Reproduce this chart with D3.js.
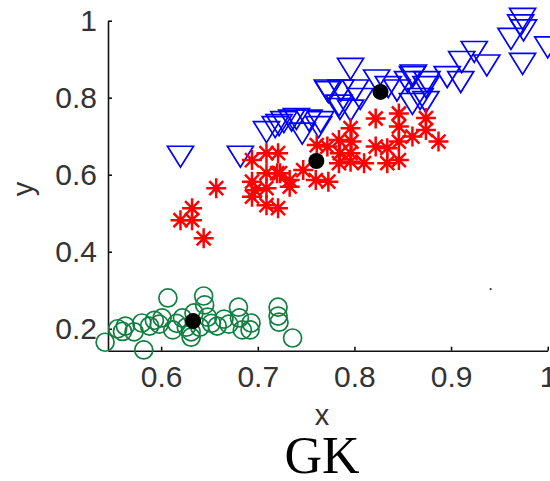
<!DOCTYPE html>
<html>
<head>
<meta charset="utf-8">
<script src="https://cdn.jsdelivr.net/npm/d3@7"></script>
<style>
  html, body { margin: 0; padding: 0; background: #fff; }
  svg { display: block; }
</style>
</head>
<body>
<svg id="chart" width="550" height="481"></svg>
<script>
// Cluster members (x, y)
const clusterA = [ // green circles
  [0.542,0.165],[0.555,0.200],[0.560,0.193],[0.563,0.207],[0.572,0.192],[0.580,0.215],
  [0.582,0.145],[0.588,0.207],[0.593,0.222],[0.598,0.212],[0.601,0.228],[0.607,0.280],
  [0.612,0.197],[0.616,0.214],[0.622,0.228],[0.626,0.204],[0.631,0.178],[0.634,0.241],
  [0.640,0.204],[0.644,0.285],[0.645,0.262],[0.648,0.230],[0.652,0.214],[0.658,0.207],
  [0.665,0.225],[0.680,0.256],[0.681,0.228],[0.684,0.197],[0.692,0.197],[0.693,0.215],
  [0.721,0.256],[0.721,0.233],[0.722,0.217],[0.736,0.176],[0.631,0.192],[0.670,0.212]
];
const clusterB = [ // red stars
  [0.657,0.565],[0.632,0.513],[0.620,0.482],[0.632,0.482],[0.644,0.435],[0.694,0.638],
  [0.709,0.656],[0.721,0.656],[0.694,0.582],[0.709,0.604],[0.720,0.604],[0.709,0.565],
  [0.694,0.543],[0.697,0.560],[0.709,0.521],[0.721,0.513],[0.733,0.586],[0.733,0.569],
  [0.747,0.612],[0.723,0.604],[0.760,0.586],[0.773,0.582],[0.772,0.673],[0.784,0.630],
  [0.784,0.690],[0.797,0.686],[0.796,0.721],[0.796,0.656],[0.810,0.630],[0.822,0.673],
  [0.822,0.746],[0.834,0.669],[0.834,0.630],[0.846,0.759],[0.846,0.725],[0.846,0.686],
  [0.846,0.638],[0.860,0.699],[0.874,0.747],[0.874,0.716],[0.887,0.686],[0.761,0.677],
  [0.785,0.656],[0.796,0.634]
];
const clusterC = [ // blue triangles
  [0.620,0.648],[0.682,0.648],[0.709,0.712],[0.718,0.725],[0.727,0.738],[0.735,0.742],
  [0.746,0.708],[0.753,0.742],[0.763,0.725],[0.765,0.738],[0.773,0.816],[0.784,0.781],
  [0.785,0.772],[0.796,0.768],[0.796,0.876],[0.786,0.820],[0.801,0.820],[0.806,0.798],
  [0.823,0.846],[0.835,0.829],[0.844,0.820],[0.860,0.855],[0.860,0.785],[0.868,0.798],
  [0.874,0.829],[0.874,0.790],[0.855,0.842],[0.896,0.855],[0.910,0.842],[0.911,0.894],
  [0.924,0.920],[0.937,0.885],[0.962,0.954],[0.972,0.989],[0.974,1.006],[0.975,0.976],
  [0.974,0.889],[1.000,0.932],[0.772,0.820],[0.861,0.859],[0.875,0.842],[0.740,0.746],
  [0.722,0.730]
];
const centroids = [[0.633,0.220],[0.7606,0.6356],[0.827,0.815]];
const stray = [[0.941,0.303]];

const xTicks = [0.6, 0.7, 0.8, 0.9, 1];
const yTicks = [0.2, 0.4, 0.6, 0.8, 1];
const xLabel = "x", yLabel = "y", title = "GK";

const svg = d3.select("#chart");
const x = d3.scaleLinear().domain([0.545, 1]).range([108, 547.7]);
const y = d3.scaleLinear().domain([0.143, 1]).range([350.7, 20.7]);
const fmt = d => d === 1 ? "1" : d3.format(".1f")(d);

// Axes: inward ticks, no outer ticks
const gx = svg.append("g").attr("transform", `translate(0,${y.range()[0]})`)
  .call(d3.axisBottom(x).tickValues(xTicks).tickFormat(fmt).tickSize(-4).tickSizeOuter(0).tickPadding(15));
const gy = svg.append("g").attr("transform", `translate(${x.range()[0]},0)`)
  .call(d3.axisLeft(y).tickValues(yTicks).tickFormat(fmt).tickSize(-4).tickSizeOuter(0).tickPadding(11));
[gx, gy].forEach(g => {
  g.select(".domain").attr("stroke", "#111").attr("stroke-width", 1.6);
  g.selectAll(".tick line").attr("stroke", "#111").attr("stroke-width", 1.6);
  g.selectAll(".tick text").attr("font-family", "Liberation Sans, Arial, sans-serif")
    .attr("font-size", 30).attr("fill", "#333");
});

// Markers
const tri = "M-13,-10L13,-10L0,11Z";
const star = "M-10,0L10,0M0,-10L0,10M-7,-7L7,7M-7,7L7,-7";

svg.append("g").selectAll("path").data(clusterC).join("path")
  .attr("d", tri).attr("transform", d => `translate(${x(d[0])},${y(d[1])})`)
  .attr("fill", "none").attr("stroke", "#0000ff").attr("stroke-width", 1.7);

svg.append("g").selectAll("path").data(clusterB).join("path")
  .attr("d", star).attr("transform", d => `translate(${x(d[0])},${y(d[1])})`)
  .attr("fill", "none").attr("stroke", "#ff0000").attr("stroke-width", 2.5);

svg.append("g").selectAll("circle").data(clusterA).join("circle")
  .attr("cx", d => x(d[0])).attr("cy", d => y(d[1])).attr("r", 9)
  .attr("fill", "none").attr("stroke", "#108040").attr("stroke-width", 1.7);

svg.append("g").selectAll("circle").data(centroids).join("circle")
  .attr("cx", d => x(d[0])).attr("cy", d => y(d[1])).attr("r", 8).attr("fill", "#000");

svg.append("g").selectAll("circle").data(stray).join("circle")
  .attr("cx", d => x(d[0])).attr("cy", d => y(d[1])).attr("r", 1.1).attr("fill", "#333");

// Axis labels and title
svg.append("text").attr("x", 322).attr("y", 425).attr("text-anchor", "middle")
  .attr("font-family", "Liberation Sans, Arial, sans-serif").attr("font-size", 29).attr("fill", "#333")
  .text(xLabel);
svg.append("text").attr("transform", "translate(33,189) rotate(-90)").attr("text-anchor", "middle")
  .attr("font-family", "Liberation Sans, Arial, sans-serif").attr("font-size", 29).attr("fill", "#333")
  .text(yLabel);
svg.append("text").attr("x", 322).attr("y", 473).attr("text-anchor", "middle")
  .attr("font-family", "Liberation Serif, Times New Roman, serif").attr("font-size", 52).attr("fill", "#000")
  .text(title);
</script>
</body>
</html>
